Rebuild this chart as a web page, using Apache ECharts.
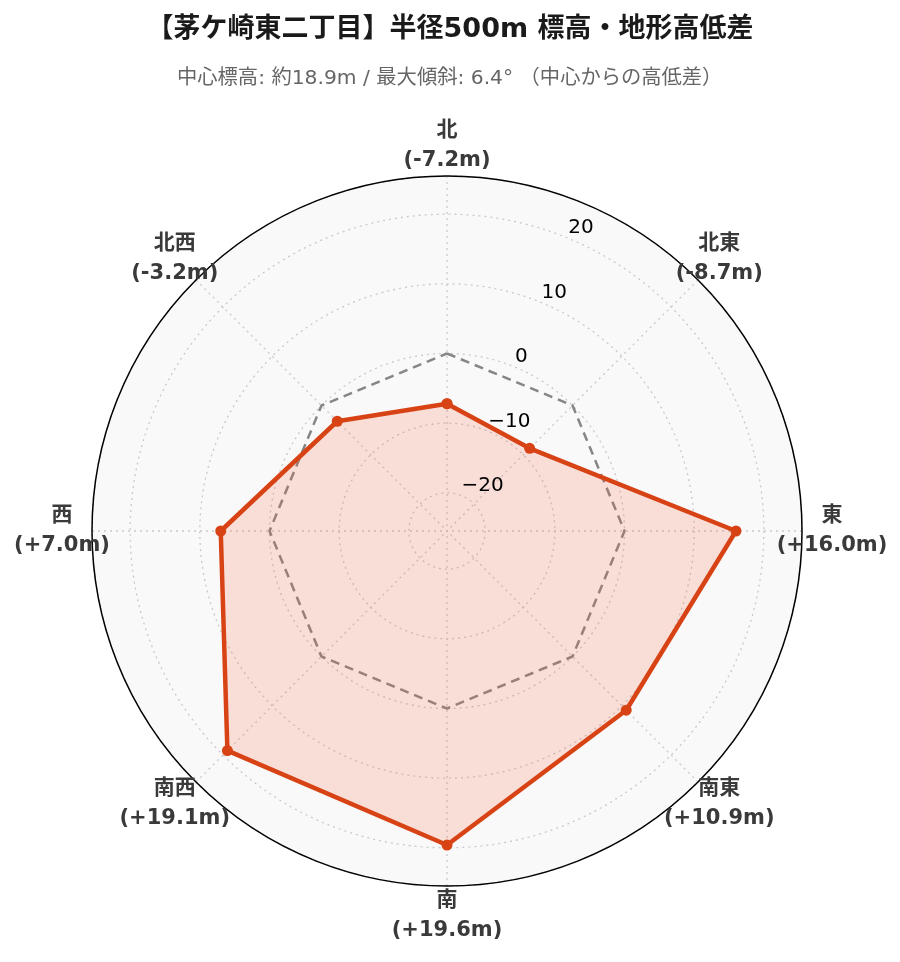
<!DOCTYPE html>
<html>
<head>
<meta charset="utf-8">
<script src="https://cdn.jsdelivr.net/npm/echarts@6/dist/echarts.min.js"></script>
<style>
html,body{margin:0;padding:0;background:#fff;}
#main{width:900px;height:962px;}
</style>
</head>
<body>
<div id="main"></div>
<script>
// ---- data ----
var directions = ['北', '北東', '東', '南東', '南', '南西', '西', '北西'];
var elevationDiff = [-7.2, -8.7, 16.0, 10.9, 19.6, 19.1, 7.0, -3.2];
var referenceLevel = [0, 0, 0, 0, 0, 0, 0, 0];
var radialTicks = [-20, -10, 0, 10, 20];
var radialRange = [-25.48, 25.48];
var titleText = '【茅ケ崎東二丁目】半径500m 標高・地形高低差';
var subtitleText = '中心標高: 約18.9m / 最大傾斜: 6.4° （中心からの高低差）';

// ---- helpers ----
var FONT = '"DejaVu Sans", "Noto Sans CJK JP", sans-serif';
function angleOf(i) { return i * 360 / directions.length; }
function closedPolar(vals) {
  var pts = vals.map(function (v, i) { return [v, angleOf(i)]; });
  pts.push([vals[0], 360]);
  return pts;
}
function fmtDiff(v) { return '(' + (v > 0 ? '+' : '') + v.toFixed(1) + 'm)'; }
function fmtTick(t) { return t < 0 ? '\u2212' + Math.abs(t) : String(t); }

var chart = echarts.init(document.getElementById('main'), null, { renderer: 'canvas' });
var CENTER = [447, 531];
var R = 355;
var GRID = { color: '#c9c9c9', type: [2, 4], width: 1.3 };

var option = {
  animation: false,
  backgroundColor: '#ffffff',
  title: [
    { text: titleText, left: 'center', top: 11,
      textStyle: { fontFamily: FONT, fontSize: 27, fontWeight: 'bold', color: '#1a1a1a' } },
    { text: subtitleText, left: 172, top: 64,
      textStyle: { fontFamily: FONT, fontSize: 20.3, fontWeight: 'normal', color: '#666' } }
  ],
  polar: [
    { center: CENTER, radius: R },
    { center: CENTER, radius: R },
    { center: CENTER, radius: R + 30 }
  ],
  angleAxis: [
    { polarIndex: 0, type: 'value', min: 0, max: 360, interval: 45, startAngle: 90, clockwise: true, z: 2,
      axisLine: { show: true, lineStyle: { color: '#000', width: 1.5 } },
      axisTick: { show: false }, axisLabel: { show: false },
      splitLine: { show: true, lineStyle: GRID },
      splitArea: { show: false } },
    { polarIndex: 1, type: 'value', min: 0, max: 360, interval: 45, startAngle: 90, clockwise: true, z: 0,
      axisLine: { show: false }, axisTick: { show: false }, axisLabel: { show: false },
      splitLine: { show: false },
      splitArea: { show: true, areaStyle: { color: ['#f9f9f9'] } } },
    { polarIndex: 2, type: 'value', min: 0, max: 360, startAngle: 90, clockwise: true, show: false }
  ],
  radiusAxis: [
    { polarIndex: 0, type: 'value', min: radialRange[0], max: radialRange[1], z: 2,
      axisLine: { show: false }, axisTick: { show: false }, axisLabel: { show: false },
      splitLine: { show: true, lineStyle: GRID } },
    { polarIndex: 1, type: 'value', min: radialRange[0], max: radialRange[1], z: 0,
      axisLine: { show: false }, axisTick: { show: false }, axisLabel: { show: false },
      splitLine: { show: false } },
    { polarIndex: 2, type: 'value', min: 0, max: 1, show: false }
  ],
  series: [
    {
      type: 'line', coordinateSystem: 'polar', polarIndex: 0,
      data: closedPolar(referenceLevel),
      symbol: 'none', silent: true, z: 3,
      lineStyle: { color: '#858585', width: 2.5, type: [9, 6] }
    },
    {
      type: 'line', coordinateSystem: 'polar', polarIndex: 0,
      data: closedPolar(elevationDiff),
      symbol: 'circle', symbolSize: 11, silent: true, z: 4,
      itemStyle: { color: '#d84315' },
      lineStyle: { color: '#d84315', width: 4.5 },
      areaStyle: { color: 'rgba(250,95,60,0.18)', opacity: 1, origin: 'start' }
    },
    {
      type: 'scatter', coordinateSystem: 'polar', polarIndex: 1, clip: false, silent: true, z: 10,
      data: radialTicks.map(function (t) { return [t, 22.5]; }),
      symbolSize: 1, itemStyle: { color: 'rgba(0,0,0,0)' },
      label: { show: true, position: 'inside', align: 'left', verticalAlign: 'bottom',
        fontFamily: FONT, fontSize: 20, color: '#000', opacity: 1,
        formatter: function (p) { return fmtTick(p.value[0]); } }
    },
    {
      type: 'scatter', coordinateSystem: 'polar', polarIndex: 2, clip: false, silent: true, z: 10,
      data: directions.map(function (d, i) { return [1, angleOf(i)]; }),
      symbolSize: 1, itemStyle: { color: 'rgba(0,0,0,0)' },
      label: { show: true, position: 'inside', align: 'center', verticalAlign: 'middle',
        fontFamily: FONT, fontSize: 21, fontWeight: 'bold', color: '#3a3a3a', lineHeight: 30, opacity: 1,
        formatter: function (p) {
          var i = p.dataIndex;
          return directions[i] + '\n' + fmtDiff(elevationDiff[i]);
        } }
    }
  ]
};
chart.setOption(option);
</script>
</body>
</html>
